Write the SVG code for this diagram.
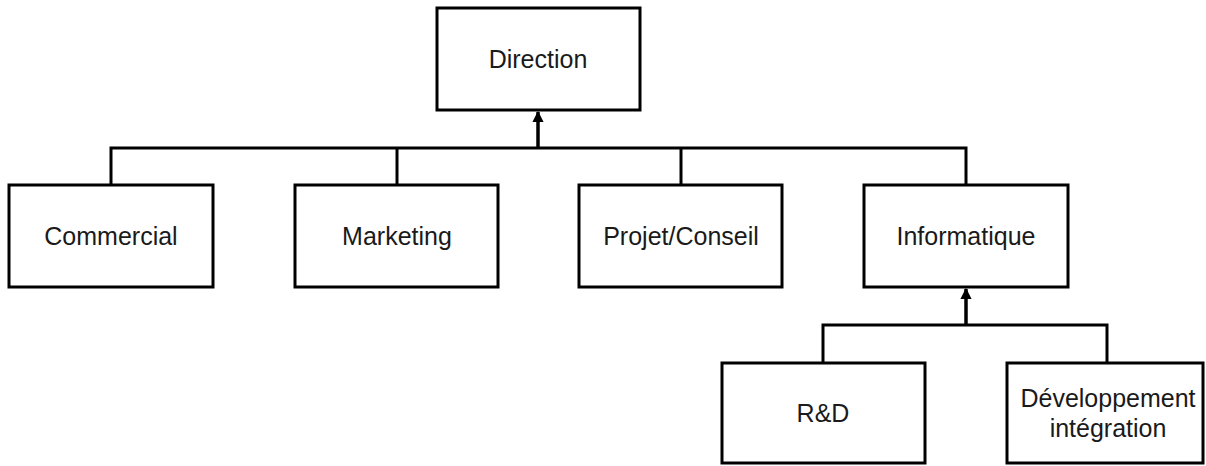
<svg xmlns="http://www.w3.org/2000/svg" width="1206" height="466" viewBox="0 0 1206 466">
<style>
.box{fill:#fff;stroke:#000;stroke-width:3}
.lbl{font-family:"Liberation Sans",Arial,sans-serif;font-size:25px;fill:#1a1a1a;text-anchor:middle}
.ln{fill:none;stroke:#000;stroke-width:3}
.ar{fill:none;stroke:#000;stroke-width:3.5;marker-end:url(#ah)}
</style>
<defs>
<marker id="ah" viewBox="0 0 10 10" refX="9" refY="5" markerWidth="3.2" markerHeight="3.2" orient="auto" markerUnits="strokeWidth">
<path d="M0,0 L10,5 L0,10 z" fill="#000"/>
</marker>
</defs>
<rect width="1206" height="466" fill="#fff"/>
<g id="connectors">
<path class="ln" d="M111,185 V148 H966 V185"/>
<path class="ln" d="M397,185 V148"/>
<path class="ln" d="M681,185 V148"/>
<path class="ar" d="M538,148 V112"/>
<path class="ln" d="M823,363 V325 H1107 V363"/>
<path class="ar" d="M966,325 V289"/>
</g>
<g id="direction"><rect class="box" x="437" y="8" width="203" height="102"/><text class="lbl" x="538" y="68">Direction</text></g>
<g id="commercial"><rect class="box" x="9" y="185" width="204" height="102"/><text class="lbl" x="111" y="245">Commercial</text></g>
<g id="marketing"><rect class="box" x="295" y="185" width="203" height="102"/><text class="lbl" x="397" y="245">Marketing</text></g>
<g id="projet"><rect class="box" x="579" y="185" width="203" height="102"/><text class="lbl" x="681" y="245">Projet/Conseil</text></g>
<g id="informatique"><rect class="box" x="864" y="185" width="204" height="102"/><text class="lbl" x="966" y="245">Informatique</text></g>
<g id="rd"><rect class="box" x="722" y="363" width="203" height="100"/><text class="lbl" x="823" y="422">R&amp;D</text></g>
<g id="dev"><rect class="box" x="1007" y="363" width="196" height="100"/><text class="lbl" x="1108" y="407">Développement</text><text class="lbl" x="1108" y="437">intégration</text></g>
</svg>
